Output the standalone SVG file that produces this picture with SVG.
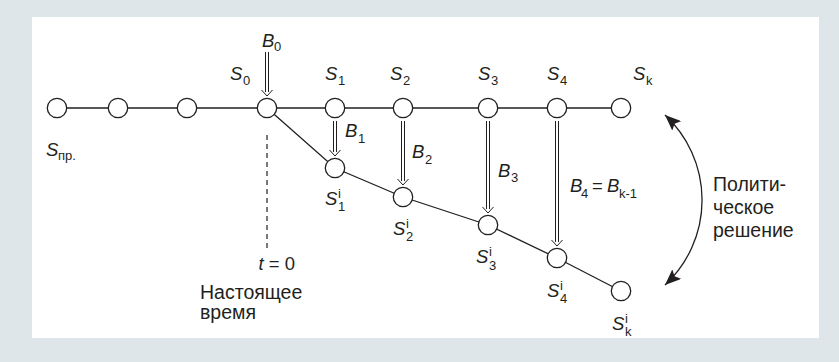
<svg xmlns="http://www.w3.org/2000/svg" width="839" height="362" viewBox="0 0 839 362">
<defs>
<style>
.ln{stroke:#231f20;stroke-width:1.3;fill:none}
.nd{fill:#fff;stroke:#231f20;stroke-width:1.3}
.dbl{stroke:#231f20;stroke-width:1;fill:none}
text{font-family:"Liberation Sans",Arial,sans-serif;fill:#231f20;font-size:18.5px}
.it{font-style:italic}
.sm{font-size:13px;font-style:normal}
.ru{font-size:19.5px}
</style>
<marker id="ah" markerUnits="userSpaceOnUse" markerWidth="17" markerHeight="13" refX="16" refY="6.5" orient="auto-start-reverse" viewBox="0 0 17 13">
<path d="M0,0 L16,6.5 L0,13 L3,6.5 Z" fill="#231f20"/>
</marker>
</defs>
<rect x="0" y="0" width="839" height="362" fill="#dfe6ea"/>
<rect x="32" y="17" width="787" height="321" fill="#fff"/>

<g id="connectors">
<line class="ln" x1="57" y1="108" x2="621" y2="108"/>
<polyline class="ln" points="267,108 335,168 403,197 488,225 557,258 621,291"/>
<line x1="267" y1="135" x2="267" y2="249" stroke="#231f20" stroke-width="1.2" stroke-dasharray="5,4"/>
<path class="dbl" d="M265.5,52 V92 M268.5,52 V92 M261.5,90 L267,96 L272.5,90"/>
<path class="dbl" d="M333.5,121 V152 M336.5,121 V152 M329.5,150 L335,156 L340.5,150"/>
<path class="dbl" d="M401.5,121 V181 M404.5,121 V181 M397.5,179 L403,185 L408.5,179"/>
<path class="dbl" d="M486.5,121 V209 M489.5,121 V209 M482.5,207 L488,213 L493.5,207"/>
<path class="dbl" d="M555.5,121 V242 M558.5,121 V242 M551.5,240 L557,246 L562.5,240"/>
<path class="ln" d="M665,115 A116,116 0 0 1 665,285" marker-start="url(#ah)" marker-end="url(#ah)"/>
</g>

<g id="n-pr1"><circle class="nd" cx="57" cy="108" r="9.7"/></g>
<g id="n-pr2"><circle class="nd" cx="118" cy="108" r="9.7"/></g>
<g id="n-pr3"><circle class="nd" cx="187" cy="108" r="9.7"/></g>
<g id="n-s0"><circle class="nd" cx="267" cy="108" r="9.7"/></g>
<g id="n-s1"><circle class="nd" cx="335" cy="108" r="9.7"/></g>
<g id="n-s2"><circle class="nd" cx="403" cy="108" r="9.7"/></g>
<g id="n-s3"><circle class="nd" cx="488" cy="108" r="9.7"/></g>
<g id="n-s4"><circle class="nd" cx="557" cy="108" r="9.7"/></g>
<g id="n-sk"><circle class="nd" cx="621" cy="108" r="9.7"/></g>
<g id="n-s1i"><circle class="nd" cx="335" cy="168" r="9.7"/></g>
<g id="n-s2i"><circle class="nd" cx="403" cy="197" r="9.7"/></g>
<g id="n-s3i"><circle class="nd" cx="488" cy="225" r="9.7"/></g>
<g id="n-s4i"><circle class="nd" cx="557" cy="258" r="9.7"/></g>
<g id="n-ski"><circle class="nd" cx="621" cy="291" r="9.7"/></g>

<g id="labels">
<text x="46" y="156"><tspan class="it">S</tspan><tspan class="sm" x="58" dy="4">пр.</tspan></text>
<text x="230" y="80"><tspan class="it">S</tspan><tspan class="sm" x="243" dy="5">0</tspan></text>
<text x="325" y="80"><tspan class="it">S</tspan><tspan class="sm" x="338" dy="5">1</tspan></text>
<text x="390" y="80"><tspan class="it">S</tspan><tspan class="sm" x="403" dy="5">2</tspan></text>
<text x="478" y="80"><tspan class="it">S</tspan><tspan class="sm" x="491" dy="5">3</tspan></text>
<text x="547" y="80"><tspan class="it">S</tspan><tspan class="sm" x="560" dy="5">4</tspan></text>
<text x="633" y="80"><tspan class="it">S</tspan><tspan class="sm" x="646" dy="5">k</tspan></text>

<text x="262" y="47"><tspan class="it">B</tspan><tspan class="sm" x="274" dy="4">0</tspan></text>
<text x="345" y="137"><tspan class="it">B</tspan><tspan class="sm" x="358" dy="6">1</tspan></text>
<text x="412" y="158"><tspan class="it">B</tspan><tspan class="sm" x="425" dy="6">2</tspan></text>
<text x="498" y="177"><tspan class="it">B</tspan><tspan class="sm" x="511" dy="5">3</tspan></text>
<text x="570" y="192"><tspan class="it">B</tspan><tspan class="sm" x="581" dy="6">4</tspan><tspan x="592" dy="-6">=</tspan><tspan class="it" x="607">B</tspan><tspan class="sm" x="619" dy="6">k-1</tspan></text>

<text x="325" y="205"><tspan class="it">S</tspan><tspan class="sm" x="338" dy="-7">i</tspan><tspan class="sm" x="338" dy="13">1</tspan></text>
<text x="393" y="235"><tspan class="it">S</tspan><tspan class="sm" x="406" dy="-7">i</tspan><tspan class="sm" x="406" dy="13">2</tspan></text>
<text x="476" y="263"><tspan class="it">S</tspan><tspan class="sm" x="489" dy="-7">i</tspan><tspan class="sm" x="489" dy="14">3</tspan></text>
<text x="547" y="297"><tspan class="it">S</tspan><tspan class="sm" x="560" dy="-7">i</tspan><tspan class="sm" x="560" dy="13">4</tspan></text>
<text x="612" y="330"><tspan class="it">S</tspan><tspan class="sm" x="625" dy="-7">i</tspan><tspan class="sm" x="625" dy="13">k</tspan></text>

<text x="295" y="270" text-anchor="end"><tspan class="it">t</tspan> = 0</text>
<text x="200" y="299" class="ru">Настоящее</text>
<text x="200" y="319" class="ru">время</text>

<text x="713" y="191" class="ru">Полити-</text>
<text x="713" y="214" class="ru">ческое</text>
<text x="713" y="237" class="ru">решение</text>
</g>
</svg>
